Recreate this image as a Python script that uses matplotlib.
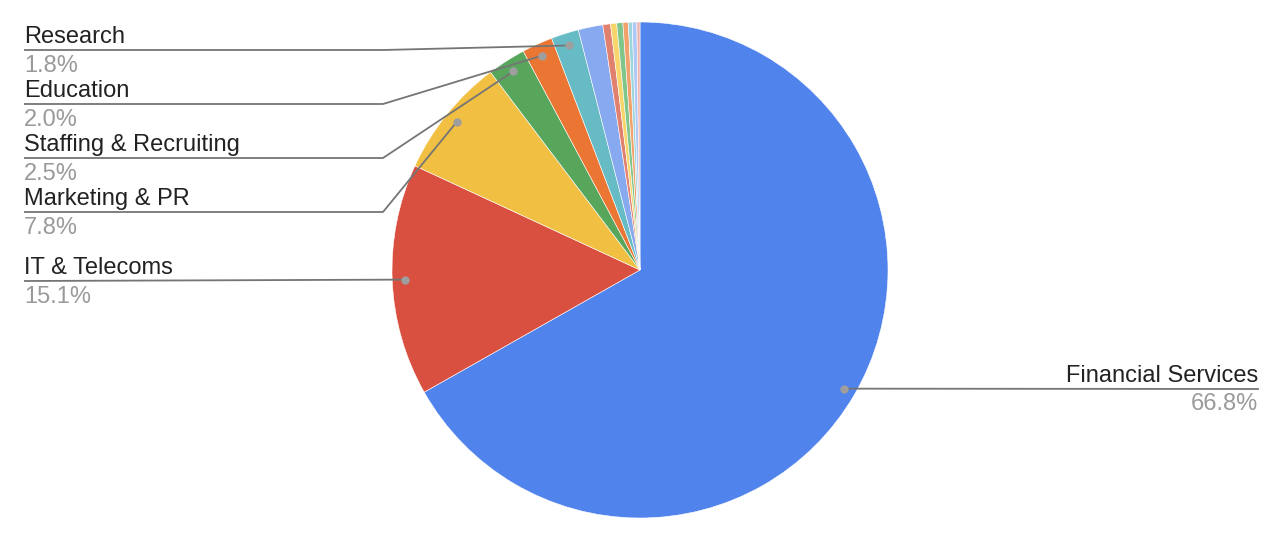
import numpy as np
import matplotlib.pyplot as plt

plt.rcParams['font.family'] = ['Liberation Sans', 'DejaVu Sans']

# slices, clockwise from 12 o'clock
industries = ['Financial Services', 'IT & Telecoms', 'Marketing & PR',
              'Staffing & Recruiting', 'Education', 'Research',
              'Other 1', 'Other 2', 'Other 3', 'Other 4', 'Other 5',
              'Other 6', 'Other 7', 'Other 8']
shares = [66.8, 15.1, 7.8, 2.5, 2.0, 1.8,
          1.6, 0.5, 0.4, 0.4, 0.35, 0.25, 0.3, 0.2]
colors = ['#5083EB', '#D95040', '#F1BF42', '#58A65C', '#EB7532', '#66BBC5',
          '#87A9F0', '#E0806F', '#F7D56A', '#80C58A', '#F1A16B', '#9DD5DC',
          '#B0C8F5', '#EDB5AF']

# which slices get a label, and the y (px from top) of their leader line
labelled = ['Research', 'Education', 'Staffing & Recruiting', 'Marketing & PR', 'IT & Telecoms']
label_line_y = [50, 104, 158, 212, 281]

W, H = 1280, 540
cx, cy, R = 640, 270, 248

fig = plt.figure(figsize=(12.8, 5.4), dpi=100)
ax = fig.add_axes([0, 0, 1, 1])

wedges, _ = ax.pie(shares, colors=colors, startangle=90, counterclock=False,
                   center=(cx, H - cy), radius=R, frame=True,
                   wedgeprops=dict(linewidth=0.4, edgecolor='white'))
ax.set_xlim(0, W)
ax.set_ylim(0, H)
ax.set_aspect('equal')
ax.axis('off')

total = sum(shares)
cum = np.cumsum([0] + shares)


def dot_pos(i):
    mid = (cum[i] + shares[i] / 2) / total * 2 * np.pi
    r = 0.95 * R
    return cx + r * np.sin(mid), cy - r * np.cos(mid)


line_col = '#757575'
dot_col = '#9E9E9E'
name_col = '#222222'
pct_col = '#9A9A9A'
fs = 17

for name, ly in zip(labelled, label_line_y):
    i = industries.index(name)
    dx, dy = dot_pos(i)
    if name == 'IT & Telecoms':
        xs = [24, dx]
        ys = [ly, dy]
    else:
        xs = [24, 383, dx]
        ys = [ly, ly, dy]
    ax.plot(xs, [H - y for y in ys], color=line_col, lw=1.3, solid_capstyle='butt')
    ax.plot(dx, H - dy, 'o', color=dot_col, ms=6, mec='none')
    ax.text(24, H - (ly - 7), name, fontsize=fs, color=name_col, ha='left', va='baseline')
    ax.text(24, H - (ly + 22), f'{shares[i]:.1f}%', fontsize=fs, color=pct_col,
            ha='left', va='baseline')

# right side label
i = 0
dx, dy = dot_pos(i)
ly = 389
ax.plot([dx, 1258], [H - dy, H - ly], color=line_col, lw=1.3)
ax.plot(dx, H - dy, 'o', color=dot_col, ms=6, mec='none')
ax.text(1258, H - (ly - 7), industries[i], fontsize=fs, color=name_col, ha='right', va='baseline')
ax.text(1258, H - (ly + 21), f'{shares[i]:.1f}%', fontsize=fs, color=pct_col,
        ha='right', va='baseline')

fig.savefig('out.png', dpi=100)
